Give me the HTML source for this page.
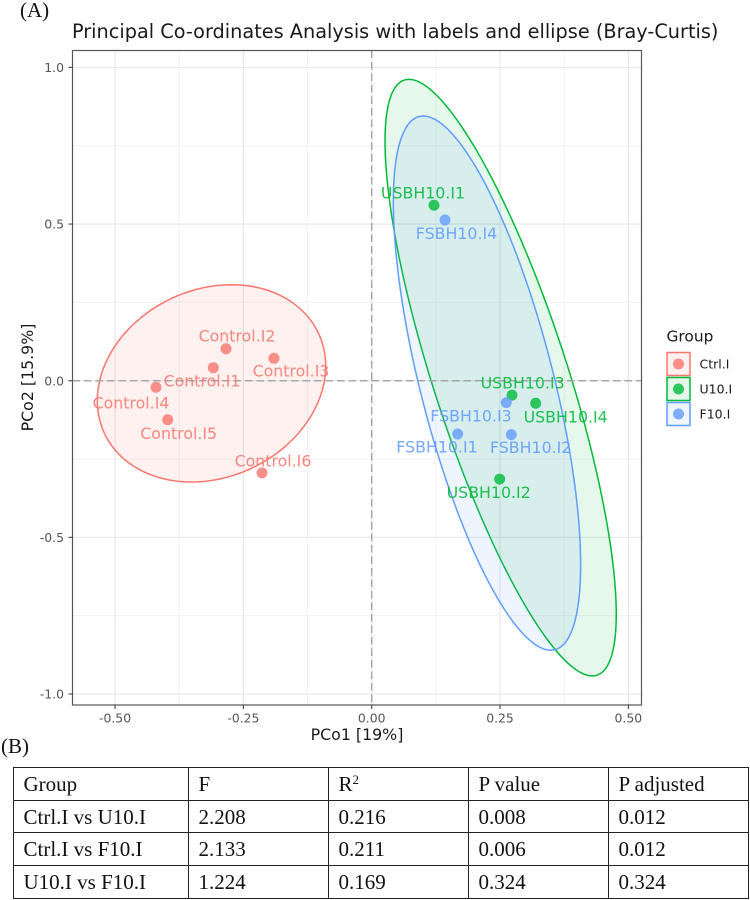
<!DOCTYPE html>
<html lang="en">
<head>
<meta charset="utf-8">
<title>PCoA with labels and ellipse</title>
<style>
html,body{margin:0;padding:0;background:#fff;}
body{width:750px;height:900px;position:relative;overflow:hidden;}
#chart{position:absolute;left:0;top:0;}
.panel-tag{position:absolute;font-family:"Liberation Serif",serif;color:#111;line-height:1;}
#stats-table{position:absolute;left:13px;top:767px;border-collapse:collapse;table-layout:fixed;width:735px;font-family:"Liberation Serif",serif;font-size:21px;color:#111;}
#stats-table td{border:1.2px solid #222;height:32.7px;box-sizing:border-box;padding:0 0 0 9.5px;line-height:20px;white-space:nowrap;vertical-align:middle;}
#stats-table sup{font-size:13px;line-height:0;vertical-align:7px;}
</style>
</head>
<body>
<div class="panel-tag" style="left:20px;top:0px;font-size:21px;">(A)</div>
<div class="panel-tag" style="left:1px;top:736px;font-size:21px;">(B)</div>

<svg id="chart" width="750" height="762" viewBox="0 0 750 762" xmlns="http://www.w3.org/2000/svg" font-family="'DejaVu Sans',sans-serif">
  <text x="395.2" y="38" text-anchor="middle" font-size="19.3" fill="#1a1a1a">Principal Co-ordinates Analysis with labels and ellipse (Bray-Curtis)</text>
  <rect x="72.5" y="50.5" width="569" height="654.5" fill="#fff"/>
  <g id="grid"></g>
  <g id="ellipses"></g>
  <g id="refs"></g>
  <g id="points"></g>
  <g id="labels" font-size="15.8"></g>
  <rect x="72.5" y="50.5" width="569" height="654.5" fill="none" stroke="#555" stroke-width="1.2"/>
  <g id="axes"></g>
  <text x="357" y="740" text-anchor="middle" font-size="15.8" fill="#1a1a1a">PCo1 [19%]</text>
  <text transform="translate(33,377.5) rotate(-90)" text-anchor="middle" font-size="15.8" fill="#1a1a1a">PCo2 [15.9%]</text>
  <g id="legend">
    <text x="666.5" y="341.5" font-size="15.4" fill="#1a1a1a">Group</text>
  </g>
</svg>

<table id="stats-table">
  <colgroup><col style="width:175px"><col style="width:140px"><col style="width:140px"><col style="width:140px"><col style="width:140px"></colgroup>
  <tr><td>Group</td><td>F</td><td>R<sup>2</sup></td><td>P value</td><td>P adjusted</td></tr>
  <tr><td>Ctrl.I vs U10.I</td><td>2.208</td><td>0.216</td><td>0.008</td><td>0.012</td></tr>
  <tr><td>Ctrl.I vs F10.I</td><td>2.133</td><td>0.211</td><td>0.006</td><td>0.012</td></tr>
  <tr><td>U10.I vs F10.I</td><td>1.224</td><td>0.169</td><td>0.324</td><td>0.324</td></tr>
</table>

<script>
// ---- data (all in PCo axis units) ----
const xTicks = [-0.5, -0.25, 0, 0.25, 0.5];
const xTickLabels = ['-0.50', '-0.25', '0.00', '0.25', '0.50'];
const xMinor = [-0.375, -0.125, 0.125, 0.375];
const yTicks = [-1, -0.5, 0, 0.5, 1];
const yTickLabels = ['-1.0', '-0.5', '0.0', '0.5', '1.0'];
const yMinor = [-0.75, -0.25, 0.25, 0.75];

const groupNames = ['Ctrl.I', 'U10.I', 'F10.I'];
const groupColors = ['#F8766D', '#00BA38', '#619CFF'];

const ctrlNames = ['Control.I1', 'Control.I2', 'Control.I3', 'Control.I4', 'Control.I5', 'Control.I6'];
const ctrlX = [-0.3086, -0.2838, -0.1903, -0.4202, -0.3974, -0.2137];
const ctrlY = [0.0415, 0.102, 0.0715, -0.021, -0.1245, -0.2942];
const ctrlLabelX = [-0.3306, -0.2624, -0.1572, -0.4689, -0.376, -0.1923];
const ctrlLabelY = [-0.001, 0.1427, 0.031, -0.0702, -0.1679, -0.2554];

const u10Names = ['USBH10.I1', 'USBH10.I2', 'USBH10.I3', 'USBH10.I4'];
const u10X = [0.1214, 0.2493, 0.2733, 0.3195];
const u10Y = [0.56, -0.314, -0.046, -0.072];
const u10LabelX = [0.0999, 0.2279, 0.2941, 0.3779];
const u10LabelY = [0.6001, -0.3562, -0.0064, -0.1149];

const f10Names = ['FSBH10.I1', 'FSBH10.I2', 'FSBH10.I3', 'FSBH10.I4'];
const f10X = [0.1675, 0.272, 0.2622, 0.1428];
const f10Y = [-0.17, -0.172, -0.07, 0.513];
const f10LabelX = [0.1272, 0.3097, 0.1934, 0.1652];
const f10LabelY = [-0.2107, -0.2126, -0.1127, 0.4705];

// Ellipse summaries, one entry per group (Ctrl, U10, F10)
const ellipseCentreX = [-0.3121, 0.2512, 0.2246];
const ellipseCentreY = [-0.0085, 0.0097, -0.0078];
const ellipseSpreadX = [0.2225, 0.2253, 0.1825];
const ellipseSpreadY = [0.3149, 0.9523, 0.8527];
const ellipseCorrelation = [0.175, -0.7925, -0.68];

// ---- axis functions ----
const PANEL_L = 72.5, PANEL_R = 641.5, PANEL_T = 50.5, PANEL_B = 705;
function sx(v) { return 371.7 + v * 513.3; }
function sy(v) { return 380.7 - v * 313.3; }

const NS = 'http://www.w3.org/2000/svg';
function mk(parent, tag, attrs, text) {
  const el = document.createElementNS(NS, tag);
  for (const k in attrs) el.setAttribute(k, attrs[k]);
  if (text !== undefined) el.textContent = text;
  parent.appendChild(el);
  return el;
}

// ---- grid ----
const grid = document.getElementById('grid');
xMinor.forEach(function (v) {
  const el = mk(grid, 'line', {x1: sx(v), x2: sx(v), y1: PANEL_T, y2: PANEL_B, stroke: '#f2f2f2', 'stroke-width': 1});
  
  
});
yMinor.forEach(function (v) {
  const el = mk(grid, 'line', {x1: PANEL_L, x2: PANEL_R, y1: sy(v), y2: sy(v), stroke: '#f2f2f2', 'stroke-width': 1});
  
  
});
xTicks.forEach(function (v) {
  const el = mk(grid, 'line', {x1: sx(v), x2: sx(v), y1: PANEL_T, y2: PANEL_B, stroke: '#e9e9e9', 'stroke-width': 1.3});
  
  
});
yTicks.forEach(function (v) {
  const el = mk(grid, 'line', {x1: PANEL_L, x2: PANEL_R, y1: sy(v), y2: sy(v), stroke: '#e9e9e9', 'stroke-width': 1.3});
  
  
});

// ---- ellipses: outline generated from each group's centre, spread and correlation ----
function ellipsePath(g) {
  const r = ellipseCorrelation[g];
  const q = Math.sqrt(1 - r * r);
  let d = '';
  for (let i = 0; i < 120; i++) {
    const t = i / 120 * 2 * Math.PI;
    const vx = ellipseCentreX[g] + ellipseSpreadX[g] * (r * Math.sin(t) + q * Math.cos(t));
    const vy = ellipseCentreY[g] + ellipseSpreadY[g] * Math.sin(t);
    d += (i ? 'L' : 'M') + sx(vx).toFixed(2) + ' ' + sy(vy).toFixed(2);
  }
  return d + 'Z';
}
const ellipseLayer = document.getElementById('ellipses');
const ctrlEllipse = mk(ellipseLayer, 'path', {d: ellipsePath(0), fill: groupColors[0], 'fill-opacity': 0.1, stroke: groupColors[0], 'stroke-width': 1.5});


const u10Ellipse = mk(ellipseLayer, 'path', {d: ellipsePath(1), fill: groupColors[1], 'fill-opacity': 0.1, stroke: groupColors[1], 'stroke-width': 1.5});


const f10Ellipse = mk(ellipseLayer, 'path', {d: ellipsePath(2), fill: groupColors[2], 'fill-opacity': 0.1, stroke: groupColors[2], 'stroke-width': 1.5});



// ---- dashed reference lines ----
const refs = document.getElementById('refs');
const vRef = mk(refs, 'line', {x1: sx(0), x2: sx(0), y1: PANEL_T, y2: PANEL_B, stroke: '#a6a6a6', 'stroke-width': 1.5, 'stroke-dasharray': '7.5 4'});


const hRef = mk(refs, 'line', {x1: PANEL_L, x2: PANEL_R, y1: sy(0), y2: sy(0), stroke: '#a6a6a6', 'stroke-width': 1.5, 'stroke-dasharray': '7.5 4'});



// ---- points and labels ----
const pointLayer = document.getElementById('points');
const labelLayer = document.getElementById('labels');
function drawGroup(names, xs, ys, lx, ly, color) {
  names.forEach(function (name, i) {
    const pt = mk(pointLayer, 'circle', {cx: sx(xs[i]), cy: sy(ys[i]), r: 5.5, fill: color, 'fill-opacity': 0.8});
    
    
    const tx = mk(labelLayer, 'text', {x: sx(lx[i]), y: sy(ly[i]) + 5.7, 'text-anchor': 'middle', fill: color, 'fill-opacity': 0.88}, name);
    
    
  });
}
drawGroup(ctrlNames, ctrlX, ctrlY, ctrlLabelX, ctrlLabelY, groupColors[0]);
drawGroup(u10Names, u10X, u10Y, u10LabelX, u10LabelY, groupColors[1]);
drawGroup(f10Names, f10X, f10Y, f10LabelX, f10LabelY, groupColors[2]);

// ---- axes ----
const axes = document.getElementById('axes');
xTicks.forEach(function (v, i) {
  const tick = mk(axes, 'line', {x1: sx(v), x2: sx(v), y1: PANEL_B, y2: PANEL_B + 4, stroke: '#444', 'stroke-width': 1.1});
  
  
  const lab = mk(axes, 'text', {x: sx(v), y: 722.5, 'text-anchor': 'middle', 'font-size': 12.4, fill: '#555'}, xTickLabels[i]);
  
  
});
yTicks.forEach(function (v, i) {
  const tick = mk(axes, 'line', {x1: PANEL_L - 4, x2: PANEL_L, y1: sy(v), y2: sy(v), stroke: '#444', 'stroke-width': 1.1});
  
  
  const lab = mk(axes, 'text', {x: 64, y: sy(v) + 4.6, 'text-anchor': 'end', 'font-size': 12.4, fill: '#555'}, yTickLabels[i]);
  
  
});

// ---- legend ----
const legend = document.getElementById('legend');
groupNames.forEach(function (name, i) {
  const top = 352.5 + i * 25;
  const key = mk(legend, 'rect', {x: 667, y: top, width: 23, height: 23, fill: groupColors[i], 'fill-opacity': 0.1, stroke: groupColors[i], 'stroke-width': 1.5});
  
  
  const dot = mk(legend, 'circle', {cx: 678.5, cy: top + 11.5, r: 5.5, fill: groupColors[i], 'fill-opacity': 0.8});
  
  
  const lab = mk(legend, 'text', {x: 699.5, y: top + 16, 'font-size': 12.5, fill: '#1a1a1a'}, name);
  
  
});
</script>
</body>
</html>
